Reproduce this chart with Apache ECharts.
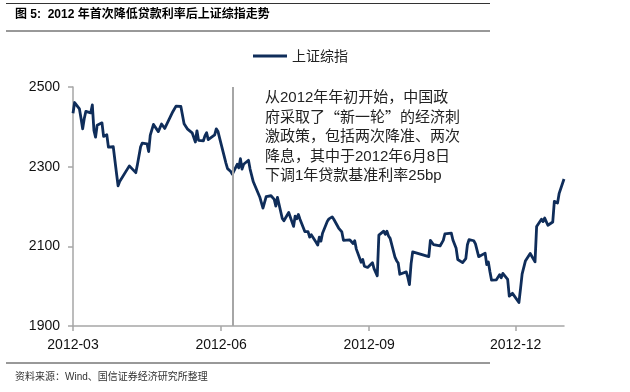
<!DOCTYPE html>
<html>
<head>
<meta charset="utf-8">
<script src="https://cdn.jsdelivr.net/npm/echarts@6/dist/echarts.min.js"></script>
<style>
html,body{margin:0;padding:0;background:#fff;}
#chart{width:630px;height:392px;}
</style>
</head>
<body>
<div id="chart"></div>
<script>
// 上证综指 2012-03 ~ 2012-12 收盘
var dates = [
    "2012-03-01","2012-03-02","2012-03-05","2012-03-06","2012-03-07","2012-03-08","2012-03-09","2012-03-12","2012-03-13","2012-03-14","2012-03-15","2012-03-16","2012-03-19","2012-03-20","2012-03-21","2012-03-22","2012-03-23","2012-03-26","2012-03-27","2012-03-28","2012-03-29","2012-03-30",
    "2012-04-05","2012-04-06","2012-04-09","2012-04-10","2012-04-11","2012-04-12","2012-04-13","2012-04-16","2012-04-17","2012-04-18","2012-04-19","2012-04-20","2012-04-23","2012-04-24","2012-04-25","2012-04-26","2012-04-27",
    "2012-05-02","2012-05-03","2012-05-04","2012-05-07","2012-05-08","2012-05-09","2012-05-10","2012-05-11","2012-05-14","2012-05-15","2012-05-16","2012-05-17","2012-05-18","2012-05-21","2012-05-22","2012-05-23","2012-05-24","2012-05-25","2012-05-28","2012-05-29","2012-05-30","2012-05-31",
    "2012-06-01","2012-06-04","2012-06-05","2012-06-06","2012-06-07","2012-06-08","2012-06-11","2012-06-12","2012-06-13","2012-06-14","2012-06-15","2012-06-18","2012-06-19","2012-06-20","2012-06-21","2012-06-25","2012-06-26","2012-06-27","2012-06-28","2012-06-29",
    "2012-07-02","2012-07-03","2012-07-04","2012-07-05","2012-07-06","2012-07-09","2012-07-10","2012-07-11","2012-07-12","2012-07-13","2012-07-16","2012-07-17","2012-07-18","2012-07-19","2012-07-20","2012-07-23","2012-07-24","2012-07-25","2012-07-26","2012-07-27","2012-07-30","2012-07-31",
    "2012-08-01","2012-08-02","2012-08-03","2012-08-06","2012-08-07","2012-08-08","2012-08-09","2012-08-10","2012-08-13","2012-08-14","2012-08-15","2012-08-16","2012-08-17","2012-08-20","2012-08-21","2012-08-22","2012-08-23","2012-08-24","2012-08-27","2012-08-28","2012-08-29","2012-08-30","2012-08-31",
    "2012-09-03","2012-09-04","2012-09-05","2012-09-06","2012-09-07","2012-09-10","2012-09-11","2012-09-12","2012-09-13","2012-09-14","2012-09-17","2012-09-18","2012-09-19","2012-09-20","2012-09-21","2012-09-24","2012-09-25","2012-09-26","2012-09-27","2012-09-28",
    "2012-10-08","2012-10-09","2012-10-10","2012-10-11","2012-10-12","2012-10-15","2012-10-16","2012-10-17","2012-10-18","2012-10-19","2012-10-22","2012-10-23","2012-10-24","2012-10-25","2012-10-26","2012-10-29","2012-10-30","2012-10-31",
    "2012-11-01","2012-11-02","2012-11-05","2012-11-06","2012-11-07","2012-11-08","2012-11-09","2012-11-12","2012-11-13","2012-11-14","2012-11-15","2012-11-16","2012-11-19","2012-11-20","2012-11-21","2012-11-22","2012-11-23","2012-11-26","2012-11-27","2012-11-28","2012-11-29","2012-11-30",
    "2012-12-03","2012-12-04","2012-12-05","2012-12-06","2012-12-07","2012-12-10","2012-12-11","2012-12-12","2012-12-13","2012-12-14","2012-12-17","2012-12-18","2012-12-19","2012-12-20","2012-12-21","2012-12-24","2012-12-25","2012-12-26","2012-12-27","2012-12-28","2012-12-31"
];
var values = [
    2434,2461,2445,2421,2395,2421,2439,2435,2455,2391,2374,2404,2410,2376,2378,2380,2349,2350,2347,2284,2252,2263,
    2302,2306,2285,2305,2308,2350,2359,2357,2338,2379,2378,2406,2388,2389,2407,2404,2396,
    2438,2440,2452,2451,2448,2408,2410,2395,2385,2374,2362,2390,2366,2365,2378,2385,2368,2372,2380,2395,2389,2373,
    2373,2309,2295,2298,2288,2281,2306,2297,2320,2294,2306,2316,2294,2292,2262,2224,2227,2196,2195,2225,
    2227,2229,2218,2201,2223,2170,2164,2171,2170,2185,2150,2176,2169,2180,2168,2137,2142,2137,2123,2129,2110,2103,
    2123,2113,2133,2163,2169,2174,2174,2168,2146,2143,2136,2115,2114,2116,2119,2107,2114,2093,2060,2067,2050,2048,2047,
    2059,2044,2043,2026,2128,2138,2130,2138,2126,2120,2073,2064,2058,2030,2029,2036,2022,2004,2056,2086,
    2074,2115,2119,2104,2105,2101,2105,2115,2131,2128,2133,2116,2114,2095,2067,2059,2058,2069,
    2104,2117,2114,2106,2105,2074,2069,2083,2054,2061,2036,2015,2016,2011,2029,2021,2032,2017,1975,1970,1982,1980,
    1959,1994,2031,2029,2063,2082,2075,2074,2061,2150,2168,2162,2171,2166,2153,2161,2213,2218,2209,2233,2269
];
var tickDates = ["2012-03-01","2012-06-01","2012-09-01","2012-12-01"];
var cutDate = "2012-06-08";
var seriesName = "上证综指";
var titleText = "图 5:  2012 年首次降低贷款利率后上证综指走势";
var sourceText = "资料来源：Wind、国信证券经济研究所整理";
// {q|..} 用中文字体排版引号(全角)
var noteLines = [
    "从2012年年初开始，中国政",
    "府采取了{q|“}新一轮{q|”}的经济刺",
    "激政策，包括两次降准、两次",
    "降息，其中于2012年6月8日",
    "下调1年贷款基准利率25bp"
];

function toTime(s) {
    var p = s.split("-");
    return new Date(+p[0], +p[1] - 1, +p[2]).getTime();
}

var seriesData = dates.map(function (d, i) { return [toTime(d), values[i]]; });
var tickValues = tickDates.map(toTime);

var latin = "'Liberation Sans', 'Noto Sans CJK SC', sans-serif";

var option = {
    animation: false,
    backgroundColor: "#fff",
    grid: {
        left: 73,
        right: 66,
        top: 87,
        bottom: 66,
        containLabel: false
    },
    legend: {
        data: [{ name: seriesName, icon: "rect" }],
        left: 253,
        top: 49,
        padding: 0,
        itemWidth: 34,
        itemHeight: 3,
        itemGap: 10,
        textStyle: {
            color: "#222",
            fontSize: 14,
            fontFamily: "'Noto Sans CJK SC', sans-serif"
        }
    },
    xAxis: {
        // 时间戳数值轴，刻度只放在季度月初
        type: "value",
        min: toTime("2012-03-01"),
        max: toTime("2012-12-31"),
        axisLine: { show: true, lineStyle: { color: "#a6a6a6", width: 1.5 } },
        axisTick: { show: true, length: 5, customValues: tickValues, lineStyle: { color: "#a6a6a6", width: 1.5 } },
        axisLabel: {
            customValues: tickValues,
            margin: 12,
            color: "#111",
            fontSize: 14,
            fontFamily: latin,
            formatter: function (v) {
                var d = new Date(v);
                var m = d.getMonth() + 1;
                return d.getFullYear() + "-" + (m < 10 ? "0" + m : m);
            }
        },
        splitLine: { show: false }
    },
    yAxis: {
        type: "value",
        min: 1900,
        max: 2500,
        interval: 200,
        axisLine: { show: true, lineStyle: { color: "#a6a6a6", width: 1.5 } },
        axisTick: { show: true, length: 5, lineStyle: { color: "#a6a6a6", width: 1.5 } },
        axisLabel: {
            margin: 13, color: "#111", fontSize: 14, fontFamily: latin,
            formatter: function (v) { return String(v); }
        },
        splitLine: { show: false }
    },
    series: [
        {
            name: seriesName,
            type: "line",
            data: seriesData,
            showSymbol: false,
            symbol: "none",
            lineStyle: { color: "#0f2d5a", width: 2.8, join: "round" },
            itemStyle: { color: "#0f2d5a" },
            markLine: {
                silent: true,
                symbol: ["none", "none"],
                label: { show: false },
                lineStyle: { color: "#a6a6a6", width: 2, type: "solid" },
                data: [{ xAxis: toTime(cutDate) }]
            }
        }
    ],
    graphic: [
        { type: "line", shape: { x1: 6, y1: 3.5, x2: 490, y2: 3.5 }, style: { stroke: "#333", lineWidth: 1.2 } },
        { type: "line", shape: { x1: 6, y1: 31, x2: 490, y2: 31 }, style: { stroke: "#333", lineWidth: 1 } },
        { type: "line", shape: { x1: 6, y1: 363, x2: 490, y2: 363 }, style: { stroke: "#333", lineWidth: 1 } },
        {
            type: "text", left: 15, top: 9,
            style: { text: titleText, fill: "#000", font: "bold 12px 'Liberation Sans', 'Noto Sans CJK SC', sans-serif" }
        },
        {
            type: "text", left: 15, top: 372,
            style: { text: sourceText, fill: "#333", font: "10px 'Liberation Sans', 'Noto Sans CJK SC', sans-serif" }
        },
        {
            type: "text", left: 265, top: 88,
            style: {
                text: noteLines.join("\n"),
                fill: "#222",
                lineHeight: 19.6,
                font: "15px 'Liberation Sans', 'Noto Sans CJK SC', sans-serif",
                rich: {
                    q: {
                        fill: "#222",
                        fontSize: 15,
                        lineHeight: 19.6,
                        fontFamily: "'Noto Sans CJK SC'"
                    }
                }
            }
        }
    ]
};

var chart = echarts.init(document.getElementById("chart"));
chart.setOption(option);
window.addEventListener("resize", chart.resize);
</script>
</body>
</html>
